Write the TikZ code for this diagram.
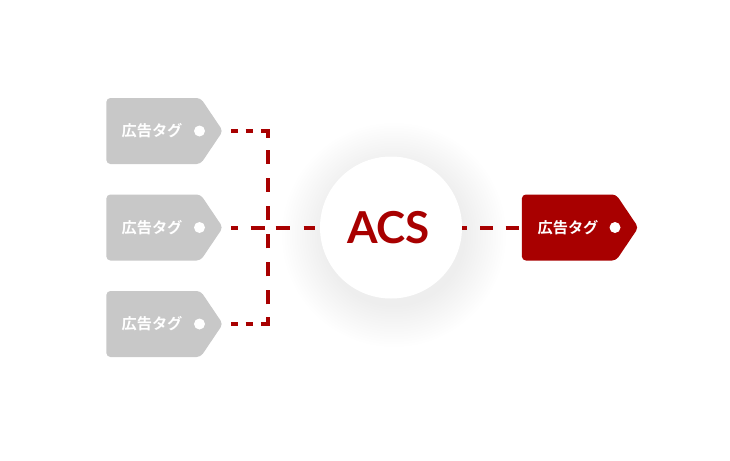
\documentclass[tikz,border=0pt]{standalone}
\usepackage{fontspec}
\newfontfamily\jpfont{Noto Sans CJK JP}[BoldFont={Noto Sans CJK JP Bold}]
\newfontfamily\latofont{Lato}
\usetikzlibrary{shapes.symbols,shapes.arrows}
\definecolor{acsred}{HTML}{A80000}
\definecolor{taggrey}{HTML}{C8C8C8}
\tikzset{
  x=1pt,y=-1pt,
  tagbody/.style={signal,signal to=east,signal pointer angle=112,minimum width=116.5pt,minimum height=66pt,inner sep=0pt,rounded corners=4pt,draw=none,fill=#1},
  taglabel/.style={text=white,font=\jpfont\bfseries\fontsize{15.2}{16}\selectfont,inner sep=0pt},
  tagdot/.style={circle,fill=white,minimum size=11pt,inner sep=0pt,draw=none},
  link/.style={draw=acsred,line width=4pt,line cap=butt,line join=miter},
  acscircle/.style={circle,fill=white,minimum size=142pt,inner sep=0pt,draw=none},
  acstext/.style={text=acsred,font=\latofont\bfseries\fontsize{44}{46}\selectfont,inner sep=0pt},
}
\begin{document}
\begin{tikzpicture}
\useasboundingbox[fill=white] (0,0) rectangle (730,460);
% shadow
\foreach \r in {72,74.5,...,112}{
  \fill[black,opacity=0.0032] (394,235) circle[radius=\r];
}
\node[tagbody=taggrey] (t1) at (153.5,131) {};
\node[tagbody=taggrey] (t2) at (153.5,227.5) {};
\node[tagbody=taggrey] (t3) at (153.5,324) {};
\node[tagbody=acsred] (t4) at (569,227.5) {};
\node[taglabel] (l1) at (152,131) {広告タグ};
\node[taglabel] (l2) at (152,227.5) {広告タグ};
\node[taglabel] (l3) at (152,324) {広告タグ};
\node[taglabel] (l4) at (568,227.5) {広告タグ};
\node[tagdot] (d1) at (199.5,131) {};
\node[tagdot] (d2) at (199.5,227.5) {};
\node[tagdot] (d3) at (199.5,324) {};
\node[tagdot] (d4) at (615,227.5) {};
\node[acscircle] (acs) at (391,227.5) {};
\node[acstext] (acslabel) at (388.5,227.5) {ACS};
\coordinate (jn) at (267.5,227.5);
\coordinate (ctop) at (267.5,131);
\coordinate (cbot) at (267.5,324);
\draw[link,shorten <=8pt,dash pattern=on 7pt off 7.5pt on 7.5pt off 8pt on 13pt off 12.5pt on 14pt off 14pt on 14pt off 14pt on 14pt off 100pt] (t1.east) -- (ctop) -- (jn);
\draw[link,shorten <=8pt,dash pattern=on 7pt off 7.5pt on 7.5pt off 8pt on 13pt off 13pt on 14pt off 14pt on 14pt off 14pt on 14pt off 100pt] (t3.east) -- (cbot) -- (jn);
\draw[link,shorten <=8pt,shorten >=5pt,dash pattern=on 7pt off 12.5pt on 14pt off 11pt on 14pt off 14pt on 14pt off 100pt] (t2.east) -- (acs.west);
\draw[link,shorten <=0pt,shorten >=3pt,dash pattern=on 5pt off 13pt on 13pt off 12.5pt on 14pt off 100pt] (acs.east) -- (t4.west);
\end{tikzpicture}
\end{document}
